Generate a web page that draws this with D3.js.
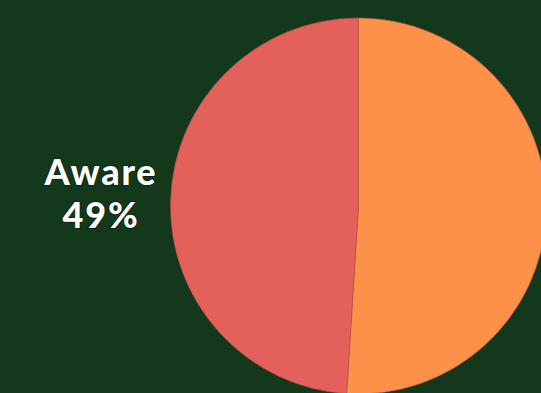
<!DOCTYPE html>
<html>
<head>
<meta charset="utf-8">
<script src="https://cdn.jsdelivr.net/npm/d3@7"></script>
<style>
  html, body { margin: 0; padding: 0; background: #13381c; }
  svg { display: block; }
</style>
</head>
<body>
<div id="chart"></div>
<script>
// Dữ liệu
const categories = ["Not aware", "Aware"];
const values = [51, 49];
const colors = ["#fe914a", "#e4605a"];

const width = 541, height = 393;
const cx = 358.5, cy = 206, radius = 188;

const svg = d3.select("#chart").append("svg")
    .attr("width", width)
    .attr("height", height)
    .style("background", "#13381c");

const pie = d3.pie().sort(null).value(d => d.value);
const arc = d3.arc().innerRadius(0).outerRadius(radius);

const data = categories.map((c, i) => ({ name: c, value: values[i], color: colors[i] }));

const g = svg.append("g").attr("transform", `translate(${cx}, ${cy})`);

g.selectAll("path")
    .data(pie(data))
    .enter().append("path")
    .attr("d", arc)
    .attr("fill", d => d.data.color)
    .attr("stroke", "#b5524a")
    .attr("stroke-width", 0.6);

// Nhãn
const label = svg.append("text")
    .attr("x", 101)
    .attr("text-anchor", "middle")
    .style("font-family", "Lato, sans-serif")
    .style("font-weight", "900")
    .style("font-size", "36px")
    .style("letter-spacing", "1.8px")
    .style("fill", "#ffffff")
    .style("paint-order", "stroke")
    .style("stroke", "rgba(0,0,0,0.35)")
    .style("stroke-width", "2px");

label.append("tspan").attr("x", 101).attr("y", 185).text(categories[1]);
label.append("tspan").attr("x", 101).attr("y", 228).text(values[1] + "%");
</script>
</body>
</html>
